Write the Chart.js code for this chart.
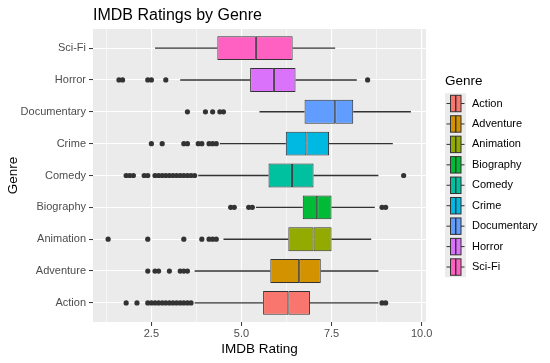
<!DOCTYPE html>
<html>
<head>
<meta charset="utf-8">
<script src="https://cdn.jsdelivr.net/npm/chart.js@4.4.0/dist/chart.umd.min.js"></script>
<style>
  html, body { margin: 0; padding: 0; background: #ffffff; }
  canvas { display: block; }
</style>
</head>
<body>
<canvas id="grafico" width="550" height="363"></canvas>
<script>
// -----------------------------
// DATA
// -----------------------------
const genres = ["Action", "Adventure", "Animation", "Biography", "Comedy", "Crime", "Documentary", "Horror", "Sci-Fi"];
const colors = ["#F8766D", "#D39200", "#93AA00", "#00BA38", "#00C19F", "#00B9E3", "#619CFF", "#DB72FB", "#FF61C3"];

const whiskerLow  = [3.7, 3.7, 4.5, 5.4, 3.8, 4.4, 5.5, 3.3, 2.6];
const q1          = [5.6, 5.8, 6.3, 6.7, 5.75, 6.23, 6.75, 5.24, 4.33];
const median      = [6.3, 6.6, 7.0, 7.1, 6.4, 6.8, 7.6, 5.9, 5.4];
const q3          = [6.9, 7.2, 7.5, 7.5, 7.0, 7.43, 8.1, 6.5, 6.42];
const whiskerHigh = [8.8, 8.8, 8.6, 8.7, 8.8, 9.2, 9.7, 8.2, 7.6];

// outliers, one list per genre (same order as genres)
const outlierValues = [
    [1.8, 2.1, 2.4, 2.5, 2.6, 2.7, 2.8, 2.9, 3.0, 3.1, 3.2, 3.3, 3.4, 3.5, 3.6, 8.9, 9.0],
    [2.4, 2.6, 2.7, 3.0, 3.3, 3.4, 3.5],
    [1.3, 2.4, 3.4, 3.9, 4.1, 4.2, 4.3],
    [4.7, 4.8, 5.2, 5.3, 8.9, 9.0],
    [1.8, 1.9, 2.0, 2.3, 2.4, 2.6, 2.7, 2.8, 2.9, 3.0, 3.1, 3.2, 3.3, 3.4, 3.5, 3.6, 3.7, 9.5],
    [2.5, 2.8, 3.4, 3.5, 3.8, 3.9, 4.1, 4.2, 4.3],
    [3.5, 4.0, 4.2, 4.4, 4.5],
    [1.6, 1.7, 2.4, 2.5, 2.9, 8.5],
    []
];

const xGridValues = [1.25, 2.5, 3.75, 5, 6.25, 7.5, 8.75, 10];
const xTickLabels = ["", "2.5", "", "5.0", "", "7.5", "", "10.0"];

const FONT = "'Liberation Sans', Arial, sans-serif";
Chart.defaults.font.family = FONT;

// -----------------------------
// PLUGINS (panel, title, legend)
// -----------------------------
const fondoPanel = {
    id: "fondoPanel",
    beforeDraw(chart) {
        const { ctx, chartArea: a } = chart;
        ctx.save();
        ctx.fillStyle = "#EBEBEB";
        ctx.fillRect(a.left, a.top, a.right - a.left, a.bottom - a.top);
        ctx.restore();
    }
};

const tituloYLeyenda = {
    id: "tituloYLeyenda",
    afterDraw(chart) {
        const { ctx, chartArea: a } = chart;
        ctx.save();

        // title
        ctx.fillStyle = "#000000";
        ctx.font = "16px " + FONT;
        ctx.textAlign = "left";
        ctx.textBaseline = "alphabetic";
        ctx.fillText("IMDB Ratings by Genre", a.left, 20);

        // legend
        const keyLeft = 445, keyW = 21, keyTop = 93.3, keyH = 20.44;
        ctx.font = "13.5px " + FONT;
        ctx.textBaseline = "middle";
        ctx.fillText("Genre", keyLeft, 81.5);

        ctx.fillStyle = "#EBEBEB";
        ctx.fillRect(keyLeft, keyTop, keyW, keyH * genres.length);

        ctx.font = "11px " + FONT;
        genres.forEach((g, i) => {
            const top = keyTop + i * keyH;
            const mid = top + keyH / 2;
            const bx0 = keyLeft + 5.5, bx1 = keyLeft + 16;

            ctx.strokeStyle = "#333333";
            ctx.lineWidth = 1;
            ctx.beginPath();
            ctx.moveTo(keyLeft + 1.5, mid);
            ctx.lineTo(bx0, mid);
            ctx.moveTo(bx1, mid);
            ctx.lineTo(keyLeft + keyW - 1.5, mid);
            ctx.stroke();

            ctx.fillStyle = colors[i];
            ctx.fillRect(bx0, top + 2, bx1 - bx0, keyH - 4);
            ctx.strokeRect(bx0, top + 2, bx1 - bx0, keyH - 4);

            ctx.lineWidth = 1.4;
            ctx.beginPath();
            ctx.moveTo((bx0 + bx1) / 2, top + 2);
            ctx.lineTo((bx0 + bx1) / 2, top + keyH - 2);
            ctx.stroke();

            ctx.fillStyle = "#000000";
            ctx.fillText(g, 472, mid);
        });

        ctx.restore();
    }
};

// -----------------------------
// DATASETS
// -----------------------------
const boxStyle = {
    grouped: false,
    categoryPercentage: 0.75,
    barPercentage: 1,
    borderColor: "#333333",
    borderWidth: 1,
    borderSkipped: false,
    backgroundColor: colors,
    order: 0
};

const whiskerStyle = {
    grouped: false,
    maxBarThickness: 1.4,
    backgroundColor: "#333333",
    borderWidth: 0,
    order: 1
};

const datasets = [
    { ...boxStyle, label: "lower box", data: genres.map((g, i) => ({ x: [q1[i], median[i]], y: i })) },
    { ...boxStyle, label: "upper box", data: genres.map((g, i) => ({ x: [median[i], q3[i]], y: i })) },
    { ...whiskerStyle, label: "lower whisker", data: genres.map((g, i) => ({ x: [whiskerLow[i], q1[i]], y: i })) },
    { ...whiskerStyle, label: "upper whisker", data: genres.map((g, i) => ({ x: [q3[i], whiskerHigh[i]], y: i })) },
    {
        type: "scatter",
        label: "outliers",
        data: genres.flatMap((g, i) => outlierValues[i].map(v => ({ x: v, y: i }))),
        pointRadius: 2.6,
        pointBackgroundColor: "#333333",
        pointBorderWidth: 0,
        order: 2
    }
];

// -----------------------------
// CHART
// -----------------------------
new Chart(document.getElementById("grafico"), {
    type: "bar",
    data: { datasets },
    options: {
        indexAxis: "y",
        responsive: false,
        animation: false,
        events: [],
        layout: { padding: { top: 29, right: 124, left: 0, bottom: 0 } },
        plugins: {
            legend: { display: false },
            title: { display: false },
            tooltip: { enabled: false }
        },
        scales: {
            x: {
                type: "linear",
                min: 0.88,
                max: 10.12,
                afterBuildTicks: s => { s.ticks = xGridValues.map(v => ({ value: v })); },
                afterFit: s => { s.height = 41; },
                ticks: {
                    autoSkip: false,
                    maxRotation: 0,
                    padding: 1,
                    color: "#4D4D4D",
                    font: { size: 11 },
                    callback: (v, i) => xTickLabels[i]
                },
                grid: {
                    color: "#FFFFFF",
                    lineWidth: c => (c.index % 2 === 1 ? 1.1 : 0.55),
                    tickColor: c => (c.index % 2 === 1 ? "#333333" : "rgba(0,0,0,0)"),
                    tickWidth: 1,
                    tickLength: 4
                },
                border: { display: false },
                title: {
                    display: true,
                    text: "IMDB Rating",
                    color: "#000000",
                    font: { size: 13.5 },
                    padding: { top: 0, bottom: 6 }
                }
            },
            y: {
                type: "linear",
                min: -0.6,
                max: 8.6,
                offset: false,
                afterBuildTicks: s => { s.ticks = genres.map((g, i) => ({ value: i })); },
                afterFit: s => { s.width = 93; },
                ticks: {
                    autoSkip: false,
                    padding: 3,
                    color: "#4D4D4D",
                    font: { size: 11 },
                    callback: (v, i) => genres[i]
                },
                grid: {
                    offset: false,
                    color: "#FFFFFF",
                    lineWidth: 1.1,
                    tickColor: "#333333",
                    tickWidth: 1,
                    tickLength: 4
                },
                border: { display: false },
                title: {
                    display: true,
                    text: "Genre",
                    color: "#000000",
                    font: { size: 13.5 },
                    padding: { top: 5.5, bottom: 0 }
                }
            }
        }
    },
    plugins: [fondoPanel, tituloYLeyenda]
});
</script>
</body>
</html>
